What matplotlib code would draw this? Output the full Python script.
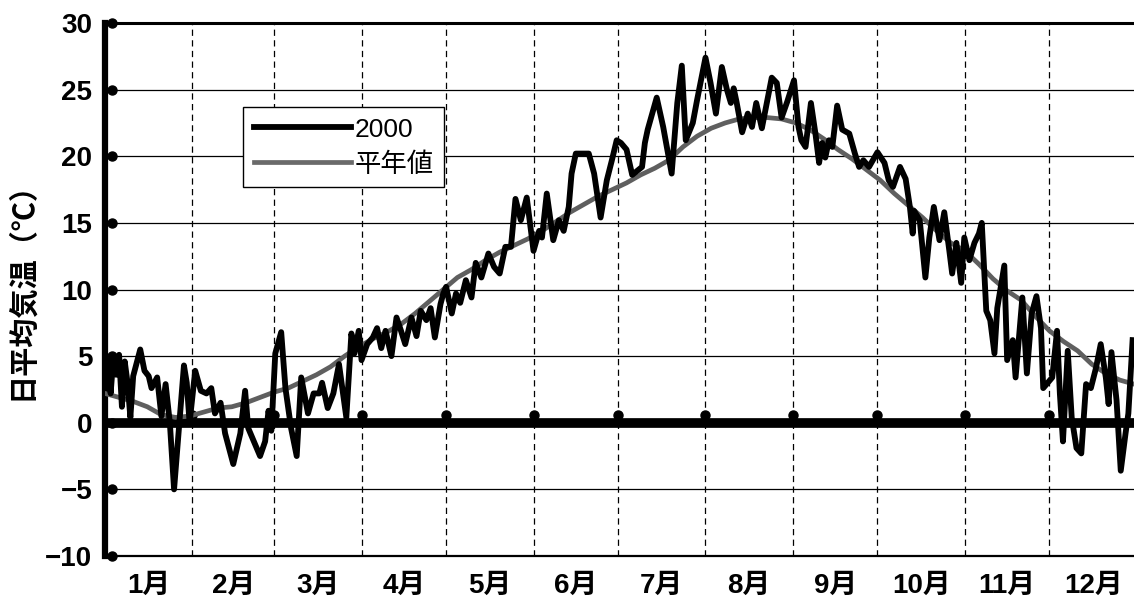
import numpy as np
import matplotlib
matplotlib.use("Agg")
import matplotlib.pyplot as plt
from matplotlib.lines import Line2D
from matplotlib.transforms import offset_copy

# ---- data -------------------------------------------------------------
month_labels = ["1月", "2月", "3月", "4月", "5月", "6月",
                "7月", "8月", "9月", "10月", "11月", "12月"]
month_days = [31, 29, 31, 30, 31, 30, 31, 31, 30, 31, 30, 31]   # 2000 (leap year)

# daily mean temperature in 2000 (day of year counted from 0 = Jan 1)
days_2000 = [0, 1, 2, 3, 4, 5, 6, 7, 8, 9, 10, 12.5, 14, 15.5, 16.5, 18.5, 20, 21.5,
             23, 24.5, 26, 28, 29, 30, 32, 34, 36, 37.7, 39, 41, 42.6, 45.5, 48,
             49.7, 50.8, 53, 55, 56.8, 58, 59, 60.4, 62.5, 64, 66, 68, 69.6, 72,
             74, 76, 77, 79, 81, 83, 85.6, 87.4, 88.5, 90, 91, 93, 95, 96.5, 98,
             99.5, 101.6, 103.4, 105, 106.5, 108.7, 110.5, 112, 114, 115.5, 117,
             119, 120, 121, 123, 124.5, 126, 128, 130, 131.5, 133.5, 136, 138, 140,
             142, 144, 145.6, 147.5, 149.6, 152, 154, 155, 156.7, 159, 161, 162.7,
             164.5, 165.5, 167, 171.6, 173.5, 175.8, 178, 179.8, 181.5, 183, 185,
             187, 190.5, 191.5, 192.5, 195.7, 198, 201, 203, 204.6, 206, 208.5, 210,
             213, 214.8, 216.7, 218.8, 220.6, 222, 223, 224, 226, 228, 229.5, 231,
             233, 236.5, 238.3, 240, 242, 244.4, 246, 247, 248.5, 250.4, 252, 253.3,
             254.4, 255.5, 256.8, 258, 259.7, 261.5, 264, 266, 267.5, 269, 271, 274,
             276.5, 278, 279.5, 282, 284, 285.5, 286.5, 287, 289, 291, 292.4, 294,
             296, 297.7, 299.5, 300.5, 302, 303.7, 304.8, 306.6, 308.4, 310, 311,
             312.6, 314, 315.5, 316.5, 319, 320, 322, 323, 325.4, 327, 328.7, 330.4,
             332, 332.8, 336, 337.7, 338.7, 339.8, 341.5, 342.9, 344.6, 346.3, 348,
             349.7, 351.5, 353.2, 355, 356, 357, 358.8, 360.3, 362, 363, 364.5]
temp_2000 = [3.0, 4.6, 2.2, 5.0, 3.6, 5.1, 1.2, 4.6, 3.0, 0.4, 3.5, 5.5, 3.9, 3.5, 2.6, 3.4, 0.5, 2.9,
             0.0, -5.0, -1.0, 4.3, 3.0, 0.0, 3.9, 2.4, 2.2, 2.6, 0.7, 1.5, -0.8, -3.1, -0.8,
             2.4, -0.4, -1.5, -2.5, -1.4, 0.9, -0.6, 5.2, 6.8, 2.6, -0.4, -2.5, 3.4, 0.7,
             2.2, 2.2, 3.0, 1.1, 2.2, 4.4, 0.4, 6.7, 5.2, 6.9, 4.7, 5.9, 6.4, 7.1, 5.6,
             6.9, 5.0, 7.9, 6.9, 5.9, 7.9, 6.5, 8.4, 7.7, 8.6, 6.4,
             8.9, 9.7, 10.2, 8.2, 9.7, 9.0, 10.7, 9.4, 12.0, 10.9, 12.7, 11.7, 11.2,
             13.2, 13.2, 16.8, 15.2, 16.9, 12.9, 14.4, 13.9, 17.2, 13.7, 15.2, 14.4,
             16.2, 18.7, 20.2, 20.2, 18.7, 15.4, 18.2, 19.7, 21.2, 21.0, 20.5,
             18.6, 19.2, 21.0, 22.0, 24.4, 22.2, 18.7, 24.0, 26.8, 21.2, 22.5, 24.2,
             27.4, 25.5, 23.2, 26.7, 25.0, 24.0, 25.1, 24.1, 21.8, 23.2, 22.2, 24.0,
             22.1, 25.9, 25.5, 22.9, 24.1, 25.7, 22.2, 21.2, 20.7, 24.0, 21.7, 19.5,
             21.0, 19.9, 21.2, 20.7, 23.8, 22.0, 21.7, 20.2, 19.2, 19.7, 19.2, 20.3,
             19.5, 18.2, 17.7, 19.2, 18.3, 16.2, 14.2, 15.9, 15.2, 10.9, 13.9, 16.2,
             13.7, 15.8, 12.9, 11.2, 13.5, 10.5, 13.9, 12.2, 13.5, 14.2, 15.0,
             8.4, 7.7, 5.2, 8.6, 11.8, 4.7, 6.2, 3.4, 9.4, 3.7, 8.2, 9.5,
             7.1, 2.6, 3.4, 6.9, 2.2, -1.4, 5.4, 0.4, -1.9, -2.3, 2.9,
             2.6, 4.1, 5.9, 3.4, 1.4, 5.3, 1.7, -3.6, -0.8, 0.7, 6.2]

# climatological normal (平年値)
days_normal = list(range(0, 366, 5))
temp_normal = [2.2, 1.9, 1.6, 1.2, 0.6, 0.4, 0.5, 0.8, 1.1, 1.2, 1.5, 1.9, 2.3,
               2.6, 3.1, 3.6, 4.2, 5.0, 5.7, 6.3, 6.8, 7.4, 8.2, 9.1, 10.0,
               10.9, 11.5, 12.2, 12.8, 13.3, 13.8, 14.4, 15.1, 15.8, 16.4, 17.0, 17.5,
               18.0, 18.6, 19.1, 19.7, 20.7, 21.5, 22.1, 22.5, 22.8, 22.9, 22.9, 22.8,
               22.5, 22.0, 21.3, 20.5, 19.8, 19.0, 18.2, 17.2, 16.3, 15.4, 14.4, 13.5,
               12.9, 11.9, 10.8, 9.9, 9.2, 8.0, 6.9, 6.1, 5.4, 4.4, 3.7, 3.2, 2.9]

y_ticks = [-10, -5, 0, 5, 10, 15, 20, 25, 30]

# ---- figure -----------------------------------------------------------
plt.rcParams["font.family"] = ["Liberation Sans", "Noto Sans CJK JP"]
W, H = 1134, 599
fig = plt.figure(figsize=(W / 100, H / 100), dpi=100)
ax = fig.add_axes([105 / W, 1 - 556 / H, (W - 105) / W, (556 - 23) / H])

bounds = np.concatenate([[0], np.cumsum(month_days)])
mids = (bounds[:-1] + bounds[1:]) / 2

ax.set_xlim(0, bounds[-1] - 1)
ax.set_ylim(y_ticks[0], y_ticks[-1])

# grid
for y in y_ticks[1:-1]:
    if y != 0:
        ax.axhline(y, color="black", lw=0.9, zorder=1)
for b in bounds[1:-1]:
    ax.axvline(b, color="black", lw=0.9, ls=(0, (5, 3.5)), zorder=1)

# zero line with month markers
ax.axhline(0, color="black", lw=7, zorder=2, solid_capstyle="butt")
tr_up = offset_copy(ax.transData, fig=fig, x=0, y=8, units="dots")
ax.plot(bounds[1:-1], np.zeros(len(bounds) - 2), "o", color="black", ms=6.5,
        transform=tr_up, zorder=2)

# series
ax.plot(days_normal, temp_normal, color="#5f5f5f", lw=3.4, zorder=3,
        solid_joinstyle="round")
ax.plot(days_2000, temp_2000, color="black", lw=4.2, zorder=4,
        solid_joinstyle="round")

# spines
ax.spines["right"].set_visible(False)
ax.spines["left"].set_linewidth(4.5)
ax.spines["top"].set_linewidth(2.2)
ax.spines["bottom"].set_linewidth(1.6)

# y-axis dot ticks
tr_right = offset_copy(ax.get_yaxis_transform(), fig=fig, x=7, y=0, units="dots")
ax.plot(np.zeros(len(y_ticks)), y_ticks, "o", color="black", ms=6.5,
        transform=tr_right, clip_on=False, zorder=5)

ax.set_yticks(y_ticks)
ax.set_yticklabels([str(v).replace("-", "\u2212") for v in y_ticks],
                   fontsize=20, fontweight="bold")
ax.tick_params(axis="y", length=0, pad=9)

ax.set_xticks(mids)
ax.set_xticklabels(month_labels, fontsize=20, fontweight="bold")
ax.tick_params(axis="x", length=0, pad=12)

fig.text(21 / W, 1 - 283 / H, "日平均気温（℃）", rotation=90, ha="center", va="center",
         fontsize=21, fontweight="bold", family=["Noto Sans CJK JP"])

handles = [Line2D([], [], color="black", lw=4.2),
           Line2D([], [], color="#6a6a6a", lw=3.4)]
leg = ax.legend(handles, ["2000", "平年値"], loc="upper left",
                bbox_to_anchor=((243 - 105) / (W - 105), (556 - 107) / 533),
                borderaxespad=0, frameon=True, fancybox=False, framealpha=1,
                edgecolor="black", prop={"size": 19},
                handlelength=3.7, handletextpad=0.12, labelspacing=0.4,
                borderpad=0.4)
leg.get_frame().set_linewidth(1.0)

fig.savefig("out.png", dpi=100)
